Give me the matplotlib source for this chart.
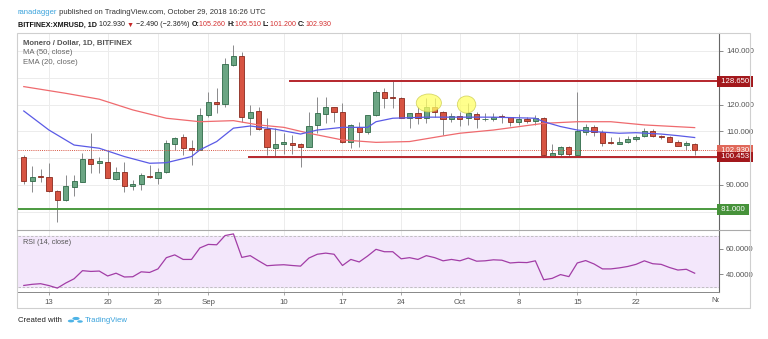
import numpy as np
import pandas as pd
import matplotlib
matplotlib.use('Agg')
import matplotlib.pyplot as plt
from matplotlib.patches import Ellipse, Rectangle, Circle
from matplotlib.lines import Line2D

# ---- data (BITFINEX:XMRUSD daily) ----
start_date = '2018-08-10'
opens = [100.3, 91.5, 93.3, 93.1, 87.8, 84.4, 89.1, 91.2, 99.6, 98.1,
         98.7, 92.2, 94.7, 89.7, 90.3, 93.5, 92.5, 95.0, 105.2, 107.8,
         103.8, 103.2, 116.1, 121.1, 120.1, 134.8, 138.3, 115.1, 117.6, 111.0,
         103.9, 105.2, 105.6, 105.3, 104.3, 112.4, 116.5, 119.0, 117.1, 106.2,
         111.8, 109.7, 116.1, 124.6, 122.8, 122.3, 115.1, 116.8, 115.1, 119.0,
         117.1, 114.5, 115.9, 115.1, 116.4, 114.5, 114.7, 115.5, 115.3, 113.6,
         114.5, 114.0, 114.9, 100.6, 101.6, 104.1, 101.2, 109.9, 111.5, 109.9,
         105.9, 105.2, 106.2, 107.2, 108.3, 110.3, 108.3, 107.8, 106.2, 104.9,
         105.26]
highs = [101.2, 97.1, 96.0, 98.2, 88.2, 93.7, 93.7, 101.8, 109.3, 100.6,
         102.7, 96.8, 98.7, 92.0, 94.4, 97.5, 96.3, 106.8, 108.0, 108.9,
         106.8, 118.6, 124.8, 126.1, 137.3, 142.2, 139.7, 119.9, 119.0, 114.9,
         111.2, 109.3, 108.5, 105.6, 117.4, 123.0, 123.0, 119.2, 120.5, 112.6,
         113.6, 116.1, 125.4, 126.1, 129.2, 123.0, 117.0, 119.2, 122.3, 122.3,
         117.7, 117.0, 117.3, 120.5, 117.1, 117.0, 117.0, 116.5, 115.4, 116.5,
         115.5, 116.0, 115.3, 105.3, 104.6, 104.6, 124.8, 112.8, 112.2, 110.5,
         107.8, 107.8, 108.3, 108.5, 111.4, 111.0, 108.6, 108.3, 106.6, 106.4,
         105.51]
lows = [90.4, 87.4, 91.2, 87.5, 76.3, 84.0, 85.9, 91.0, 94.4, 94.6,
        92.5, 91.9, 87.5, 88.0, 88.1, 92.6, 90.4, 94.4, 103.0, 101.2,
        97.5, 103.0, 115.5, 116.8, 119.2, 134.5, 113.6, 108.7, 110.5, 101.2,
        100.9, 101.6, 101.6, 96.8, 104.3, 109.3, 113.0, 113.6, 105.6, 103.7,
        104.3, 109.0, 115.9, 118.9, 118.6, 115.1, 111.2, 112.6, 113.2, 115.3,
        108.7, 113.4, 112.0, 112.4, 111.2, 113.8, 113.8, 113.0, 112.0, 112.4,
        113.0, 112.4, 100.7, 100.4, 100.9, 100.9, 101.0, 108.7, 108.4, 104.6,
        105.3, 105.1, 105.5, 106.5, 108.0, 107.8, 107.0, 106.0, 104.6, 103.1,
        101.2]
closes = [91.5, 92.9, 93.0, 87.8, 84.4, 89.5, 91.5, 99.7, 98.0, 99.0,
          92.5, 94.7, 89.7, 90.2, 93.6, 92.8, 94.7, 105.6, 107.7, 103.7,
          103.2, 116.1, 121.1, 120.1, 135.0, 138.3, 115.5, 117.4, 110.8, 104.0,
          105.2, 105.9, 104.9, 104.2, 112.1, 116.8, 119.0, 117.4, 106.2, 112.4,
          109.7, 116.1, 124.8, 122.4, 122.4, 115.1, 116.8, 115.1, 119.0, 117.4,
          114.6, 115.9, 114.6, 116.8, 114.6, 114.7, 115.5, 115.3, 113.6, 114.6,
          114.0, 115.0, 101.0, 101.8, 104.1, 101.6, 110.0, 111.8, 109.7, 105.6,
          105.8, 106.2, 107.2, 107.8, 110.3, 108.4, 107.8, 106.2, 104.7, 105.6,
          102.93]

# MA(50) and EMA(20) as read at sample days (day 0 = Aug 10)
ma50_days = [0, 5, 9, 13, 17, 21, 25, 28, 31, 34, 38, 42, 46, 50, 52, 56, 62, 66, 70, 74, 80]
ma50_vals = [126.7, 124.2, 122.0, 118.0, 114.9, 113.6, 114.0, 112.4, 111.5, 109.3, 106.8,
             105.9, 106.2, 108.3, 109.3, 110.5, 113.0, 113.6, 113.6, 112.4, 111.4]
ema20_days = [0, 3, 6, 9, 12, 15, 17, 20, 21, 23, 25, 27, 30, 33, 35, 38, 41, 42, 44, 48,
              56, 61, 62, 64, 66, 68, 71, 73, 76, 78, 80]
ema20_vals = [117.6, 110.5, 104.9, 103.7, 100.6, 98.1, 98.3, 100.6, 103.1, 106.2, 111.2,
              112.0, 110.8, 109.0, 110.5, 111.5, 111.5, 113.6, 114.9, 115.3,
              115.3, 114.9, 113.6, 111.8, 110.5, 109.9, 109.3, 109.5, 109.0, 108.4, 107.7]

rsi_vals = [31.1, 32.0, 32.5, 31.0, 29.0, 33.0, 36.4, 42.8, 42.2, 42.5,
            38.6, 40.8, 37.8, 38.0, 41.9, 41.4, 44.2, 53.1, 55.3, 51.7,
            51.7, 60.8, 63.6, 63.3, 70.6, 71.9, 53.3, 54.7, 50.6, 46.7,
            47.2, 47.5, 46.9, 46.4, 52.8, 55.8, 56.7, 55.8, 46.9, 51.7,
            49.7, 54.4, 59.7, 57.8, 57.8, 52.2, 53.1, 51.7, 54.7, 53.1,
            50.6, 51.7, 50.6, 52.8, 50.3, 50.6, 51.4, 51.1, 48.9, 49.4,
            49.2, 50.6, 35.6, 36.7, 39.7, 38.1, 48.9, 50.8, 48.1, 44.2,
            44.2, 45.0, 46.1, 47.8, 50.6, 48.3, 47.8, 45.3, 43.3, 43.9,
            40.8]

resistance = 128.65
support_hi = 100.453
support_lo = 81.0
last_price = 102.93

price_ticks = [140, 120, 110, 90]
rsi_ticks = [60, 40]
tick_dates = ['2018-08-13', '2018-08-20', '2018-08-26', '2018-09-01', '2018-09-10', '2018-09-17',
              '2018-09-24', '2018-10-01', '2018-10-08', '2018-10-15', '2018-10-22']
tick_labels = ['13', '20', '26', 'Sep', '10', '17', '24', 'Oct', '8', '15', '22']
edge_date, edge_label = '2018-11-01', 'Nov'

# ---- layout helpers (pixel -> figure fraction) ----
W, H = 768, 339
def fx(px):
    return px / W
def fy(py):
    return 1 - py / H

plt.rcParams['font.family'] = ['Liberation Sans', 'DejaVu Sans']
fig = plt.figure(figsize=(W / 100, H / 100), dpi=100)
fig.patch.set_facecolor('white')

ax = fig.add_axes([fx(18), fy(230), fx(719) - fx(18), fy(33) - fy(230)])
ax_rsi = fig.add_axes([fx(18), fy(292.4), fx(719) - fx(18), fy(230) - fy(292.4)], sharex=ax)

o = np.array(opens); h = np.array(highs); l = np.array(lows); c = np.array(closes)
x = np.arange(len(o))
up = c >= o
tick_pos = [(pd.Timestamp(d) - pd.Timestamp(start_date)).days for d in tick_dates]

grid_col = '#ececec'
for a in (ax, ax_rsi):
    a.set_xticks(tick_pos)
    for t in tick_pos:
        a.axvline(t, color=grid_col, lw=0.7, zorder=0)
for lvl in np.arange(80, 150, 10):
    ax.axhline(lvl, color=grid_col, lw=0.7, zorder=0)

# candles
ax.vlines(x, l, h, color='#8a8a8c', lw=0.7, zorder=2)
body_lo = np.minimum(o, c)
body_h = np.maximum(np.abs(c - o), 0.3)
ax.bar(x[up], body_h[up], 0.62, bottom=body_lo[up], color='#6ba583', edgecolor='#2f6a48', lw=0.6, zorder=3)
ax.bar(x[~up], body_h[~up], 0.62, bottom=body_lo[~up], color='#d75442', edgecolor='#8a2a1e', lw=0.6, zorder=3)

# moving averages
ax.plot(ma50_days, ma50_vals, color='#ef6a6e', lw=0.9, zorder=4)
ax.plot(ema20_days, ema20_vals, color='#5a5ae6', lw=0.9, zorder=4)

# horizontal levels
ax.plot([31.8, 83], [resistance] * 2, color='#b5262c', lw=1.4, zorder=4)
ax.plot([26.9, 83], [support_hi] * 2, color='#b5262c', lw=1.4, zorder=4)
ax.axhline(support_lo, color='#4b9a3f', lw=1.4, zorder=4)
ax.axhline(last_price, color='#d75442', lw=0.7, ls=(0, (1, 1.2)), zorder=4)

# highlighted tops
for cx, cy, ew, eh in [(48.3, 120.6, 3.0, 6.7), (52.8, 120.0, 2.2, 6.4)]:
    ax.add_patch(Ellipse((cx, cy), ew, eh, facecolor='#ffff66', edgecolor='#c9c94a',
                         alpha=0.75, lw=0.6, zorder=5))

ax.set_xlim(-0.69, 82.9)
ax.set_ylim(73.2, 146.7)

# price axis on the right
ax.yaxis.tick_right()
ax.set_yticks(price_ticks)
ax.set_yticklabels(['%.3f' % v for v in price_ticks])
ax.tick_params(axis='y', length=3, width=0.6, color='#777', labelsize=5.6, labelcolor='#555', pad=2)
ax.tick_params(axis='x', length=0, labelbottom=False)

# coloured price labels
ytr = ax.get_yaxis_transform()
for val, bg in [(resistance, '#a3181c'), (last_price, '#e0685a'), (support_hi, '#a3181c'), (support_lo, '#46923a')]:
    ax.text(1.0, val, ' %.3f ' % val, transform=ytr, ha='left', va='center', fontsize=5.6, color='white',
            bbox=dict(boxstyle='square,pad=0.25', facecolor=bg, edgecolor='none'), clip_on=False, zorder=10)

# RSI pane
ax_rsi.axhspan(30, 70, color='#f3e7fb', zorder=0)
for lvl in (30, 70):
    ax_rsi.axhline(lvl, color='#b8b8b8', lw=0.6, ls=(0, (3, 2)), zorder=1)
ax_rsi.plot(x, rsi_vals, color='#a23da6', lw=0.9, zorder=3)
ax_rsi.set_ylim(25.6, 75)
ax_rsi.yaxis.tick_right()
ax_rsi.set_yticks(rsi_ticks)
ax_rsi.set_yticklabels(['%.4f' % v for v in rsi_ticks])
ax_rsi.tick_params(axis='y', length=3, width=0.6, color='#777', labelsize=5.6, labelcolor='#555', pad=2)
ax_rsi.set_xticklabels(tick_labels)
ax_rsi.tick_params(axis='x', length=2, width=0.6, color='#999', labelsize=5.6, labelcolor='#555', pad=3)

# month label on the right edge, cut off by the price axis
edge_pos = (pd.Timestamp(edge_date) - pd.Timestamp(start_date)).days
edge_x = ax_rsi.transData.transform((edge_pos, 0))[0] / fig.dpi / fig.get_figwidth()
nov = fig.text(edge_x - fx(2), fy(300.5), edge_label, ha='center', va='center', fontsize=5.6, color='#555',
               clip_on=True)
nov.set_clip_path(Rectangle((0, 0), fx(719), 1, transform=fig.transFigure))

for a in (ax, ax_rsi):
    a.set_facecolor('none')
    for side in ('top', 'left', 'bottom'):
        a.spines[side].set_visible(False)
    a.spines['right'].set_color('#666')
    a.spines['right'].set_linewidth(0.8)
ax_rsi.spines['bottom'].set_visible(True)
ax_rsi.spines['bottom'].set_color('#888')
ax_rsi.spines['bottom'].set_linewidth(0.7)

# outer frame and pane separator
fig.add_artist(Rectangle((fx(17), fy(308)), fx(750) - fx(17), fy(33) - fy(308), transform=fig.transFigure,
                         facecolor='none', edgecolor='#cfcfcf', lw=0.8))
fig.add_artist(Line2D([fx(17), fx(750)], [fy(230), fy(230)], transform=fig.transFigure, color='#aaa', lw=0.8))

# legend texts
fig.text(fx(23), fy(43), 'Monero / Dollar, 1D, BITFINEX', fontsize=5.6, color='#555', fontweight='bold', va='center')
fig.text(fx(23), fy(53), 'MA (50, close)', fontsize=5.6, color='#666', va='center')
fig.text(fx(23), fy(63), 'EMA (20, close)', fontsize=5.6, color='#666', va='center')
fig.text(fx(23), fy(243), 'RSI (14, close)', fontsize=5.2, color='#555', va='center')

# header lines
def chain(parts, px, py, size):
    t = fig.text(fx(px), fy(py), parts[0][0], color=parts[0][1], fontsize=size, fontweight=parts[0][2], va='center')
    for s, col, wt in parts[1:]:
        t = ax.annotate(s, xy=(1, 0), xycoords=t, ha='left', va='bottom', color=col, fontsize=size,
                        fontweight=wt, annotation_clip=False)

chain([('ranadagger', '#3ba3dc', 'normal'),
       (' published on TradingView.com, October 29, 2018 16:26 UTC', '#333', 'normal')], 18, 13, 5.5)
chain([('BITFINEX:XMRUSD, 1D', '#111', 'bold'),
       (' 102.930 ', '#222', 'normal'),
       ('\u25bc', '#c62828', 'normal'),
       (' \u22122.490 (\u22122.36%) ', '#222', 'normal'),
       ('O:', '#111', 'bold'), ('105.260 ', '#d32f2f', 'normal'),
       ('H:', '#111', 'bold'), ('105.510 ', '#d32f2f', 'normal'),
       ('L:', '#111', 'bold'), ('101.200 ', '#d32f2f', 'normal'),
       ('C:', '#111', 'bold'), ('102.930', '#d32f2f', 'normal')], 18, 25, 5.1)

# footer
fig.text(fx(18), fy(320), 'Created with', fontsize=5.6, color='#222', va='center')
for cx, cy, r in [(71, 321, 3.2), (76, 318.5, 3.6), (80, 321.5, 2.8)]:
    fig.add_artist(Circle((fx(cx), fy(cy)), r / W, transform=fig.transFigure, facecolor='#4eb3e6',
                          edgecolor='none'))
fig.text(fx(85), fy(320), 'TradingView', fontsize=5.6, color='#3ba3dc', va='center')

fig.savefig('out.png', dpi=100, facecolor='white')
plt.close(fig)
